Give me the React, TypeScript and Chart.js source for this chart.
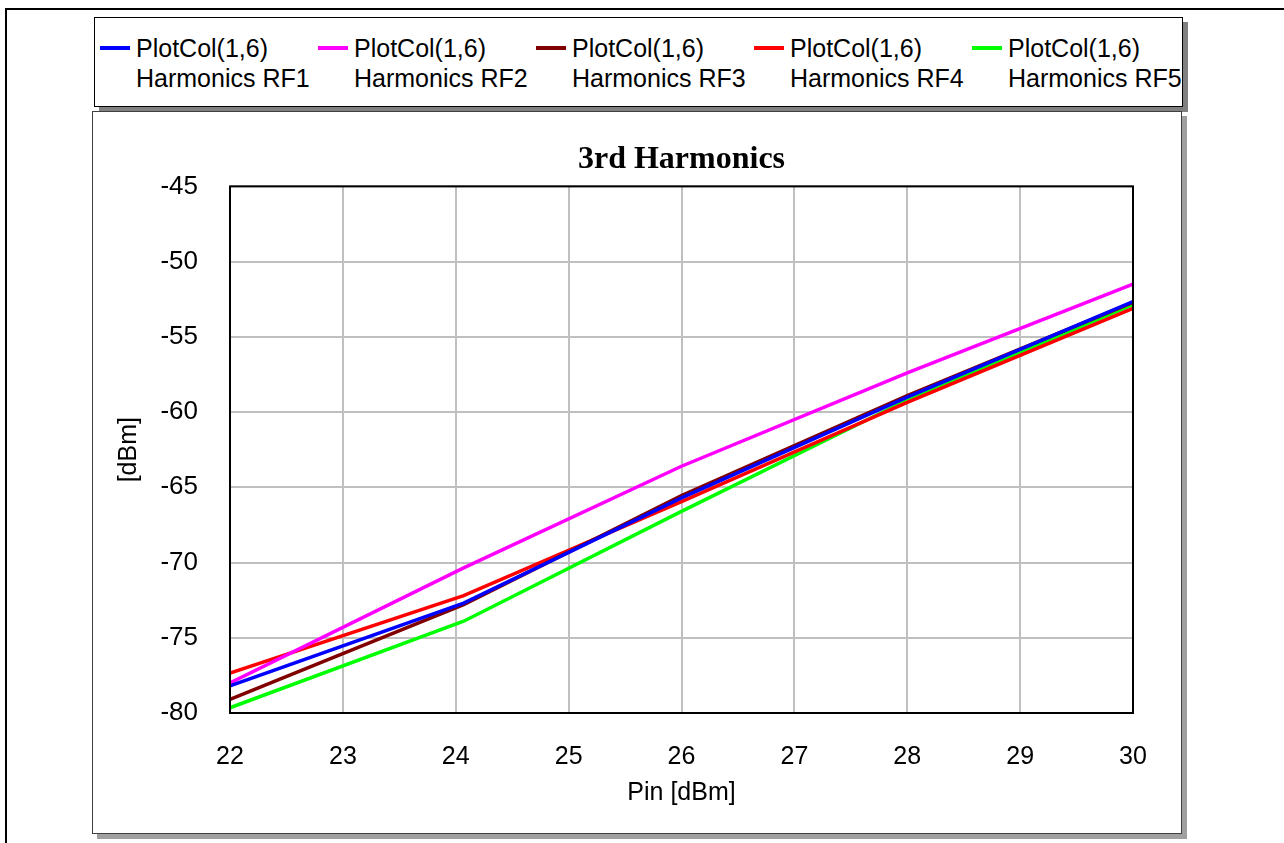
import React, { useEffect, useRef } from 'react';
import { Chart, registerables } from 'chart.js';

Chart.register(...registerables);

// ---- data ----
const pinValues = [22, 24.07, 26, 28, 30];
const rf1Values = [-78.2, -72.7, -65.7, -59.0, -52.65];
const rf2Values = [-78.0, -70.35, -63.6, -57.4, -51.5];
const rf3Values = [-79.1, -72.8, -65.55, -58.9, -52.7];
const rf4Values = [-77.35, -72.2, -65.95, -59.35, -53.1];
const rf5Values = [-79.65, -73.9, -66.6, -59.2, -52.85];

const seriesValues = [rf1Values, rf2Values, rf3Values, rf4Values, rf5Values];
const seriesNames = ['Harmonics RF1', 'Harmonics RF2', 'Harmonics RF3', 'Harmonics RF4', 'Harmonics RF5'];
const seriesPrefix = 'PlotCol(1,6)';
const seriesColors = ['#0000ff', '#ff00ff', '#800000', '#ff0000', '#00ff00'];

const xTicks = [22, 23, 24, 25, 26, 27, 28, 29, 30];
const yTicks = [-80, -75, -70, -65, -60, -55, -50, -45];

const chartTitle = '3rd Harmonics';
const xTitle = 'Pin [dBm]';
const yTitle = '[dBm]';

const SANS = "'Liberation Sans', Arial, sans-serif";
const SERIF = "'Liberation Serif', 'Times New Roman', serif";

export default function App() {
  const ref = useRef<HTMLCanvasElement>(null);

  useEffect(() => {
    if (!ref.current) return;
    const plotBorder = {
      id: 'plotBorder',
      afterDatasetsDraw(chart: any) {
        const { ctx, chartArea: a } = chart;
        ctx.save();
        ctx.strokeStyle = '#000';
        ctx.lineWidth = 2;
        ctx.strokeRect(a.left, a.top, a.right - a.left, a.bottom - a.top);
        ctx.restore();
      },
    };
    const tickFont = { family: SANS, size: 25 };
    const chart = new Chart(ref.current, {
      type: 'line',
      data: {
        datasets: seriesValues.map((vals, i) => ({
          label: seriesNames[i],
          data: pinValues.map((x, j) => ({ x, y: vals[j] })),
          borderColor: seriesColors[i],
          backgroundColor: seriesColors[i],
          borderWidth: 3.5,
          pointRadius: 0,
          tension: 0,
          fill: false,
        })),
      },
      options: {
        responsive: false,
        animation: false,
        devicePixelRatio: 1,
        layout: { padding: { left: 114, right: 151, top: 0, bottom: 35 } },
        plugins: {
          legend: { display: false },
          tooltip: { enabled: false },
          title: {
            display: true,
            text: chartTitle,
            fullSize: false,
            color: '#000',
            font: { family: SERIF, size: 32, weight: 'bold' },
            padding: { top: 141, bottom: 7 },
          },
        },
        scales: {
          x: {
            type: 'linear',
            min: xTicks[0],
            max: xTicks[xTicks.length - 1],
            afterBuildTicks: (s: any) => {
              s.ticks = xTicks.map((v) => ({ value: v }));
            },
            afterFit: (s: any) => {
              s.height = 95;
            },
            grid: { color: '#c0c0c0', lineWidth: 2, drawTicks: false },
            border: { display: false },
            ticks: { color: '#000', font: tickFont, padding: 29, maxRotation: 0, autoSkip: false },
            title: { display: true, text: xTitle, color: '#000', font: tickFont, padding: { top: 6, bottom: 0 } },
          },
          y: {
            type: 'linear',
            min: yTicks[0],
            max: yTicks[yTicks.length - 1],
            afterBuildTicks: (s: any) => {
              s.ticks = yTicks.map((v) => ({ value: v }));
            },
            afterFit: (s: any) => {
              s.width = 116;
            },
            grid: { color: '#c0c0c0', lineWidth: 2, drawTicks: false },
            border: { display: false },
            ticks: { color: '#000', font: { family: SANS, size: 26 }, padding: 32, autoSkip: false },
            title: { display: true, text: yTitle, color: '#000', font: tickFont, padding: { top: 0, bottom: 0 } },
          },
        },
      },
      plugins: [plotBorder],
    } as any);
    return () => chart.destroy();
  }, []);

  return (
    <div
      style={{
        position: 'fixed',
        left: 0,
        top: 0,
        width: 1284,
        height: 843,
        overflow: 'hidden',
        background: '#fff',
        fontFamily: SANS,
      }}
    >
      {/* outer frame */}
      <div
        style={{
          position: 'absolute',
          left: 5,
          top: 8,
          width: 1300,
          height: 900,
          border: '2px solid #000',
          boxSizing: 'border-box',
        }}
      />
      {/* legend box */}
      <div
        style={{
          position: 'absolute',
          left: 94,
          top: 17,
          width: 1089,
          height: 90,
          border: '1px solid #000',
          boxSizing: 'border-box',
          background: '#fff',
          boxShadow: '5px 5px 0 #808080',
        }}
      />
      {seriesNames.map((name, i) => (
        <React.Fragment key={name}>
          <div
            style={{
              position: 'absolute',
              left: 100 + 218 * i,
              top: 46,
              width: 30,
              height: 4,
              background: seriesColors[i],
            }}
          />
          <div
            style={{
              position: 'absolute',
              left: 136 + 218 * i,
              top: 33,
              fontSize: 25,
              lineHeight: '30px',
              color: '#000',
              whiteSpace: 'nowrap',
            }}
          >
            <div>{seriesPrefix}</div>
            <div>{name}</div>
          </div>
        </React.Fragment>
      ))}
      {/* plot panel */}
      <div
        style={{
          position: 'absolute',
          left: 92,
          top: 111,
          width: 1090,
          height: 723,
          border: '1px solid #404040',
          boxSizing: 'border-box',
          background: '#fff',
          boxShadow: '5px 5px 0 #a0a0a0',
        }}
      />
      <canvas
        ref={ref}
        width={1284}
        height={843}
        style={{ position: 'absolute', left: 0, top: 0, width: 1284, height: 843 }}
      />
    </div>
  );
}
